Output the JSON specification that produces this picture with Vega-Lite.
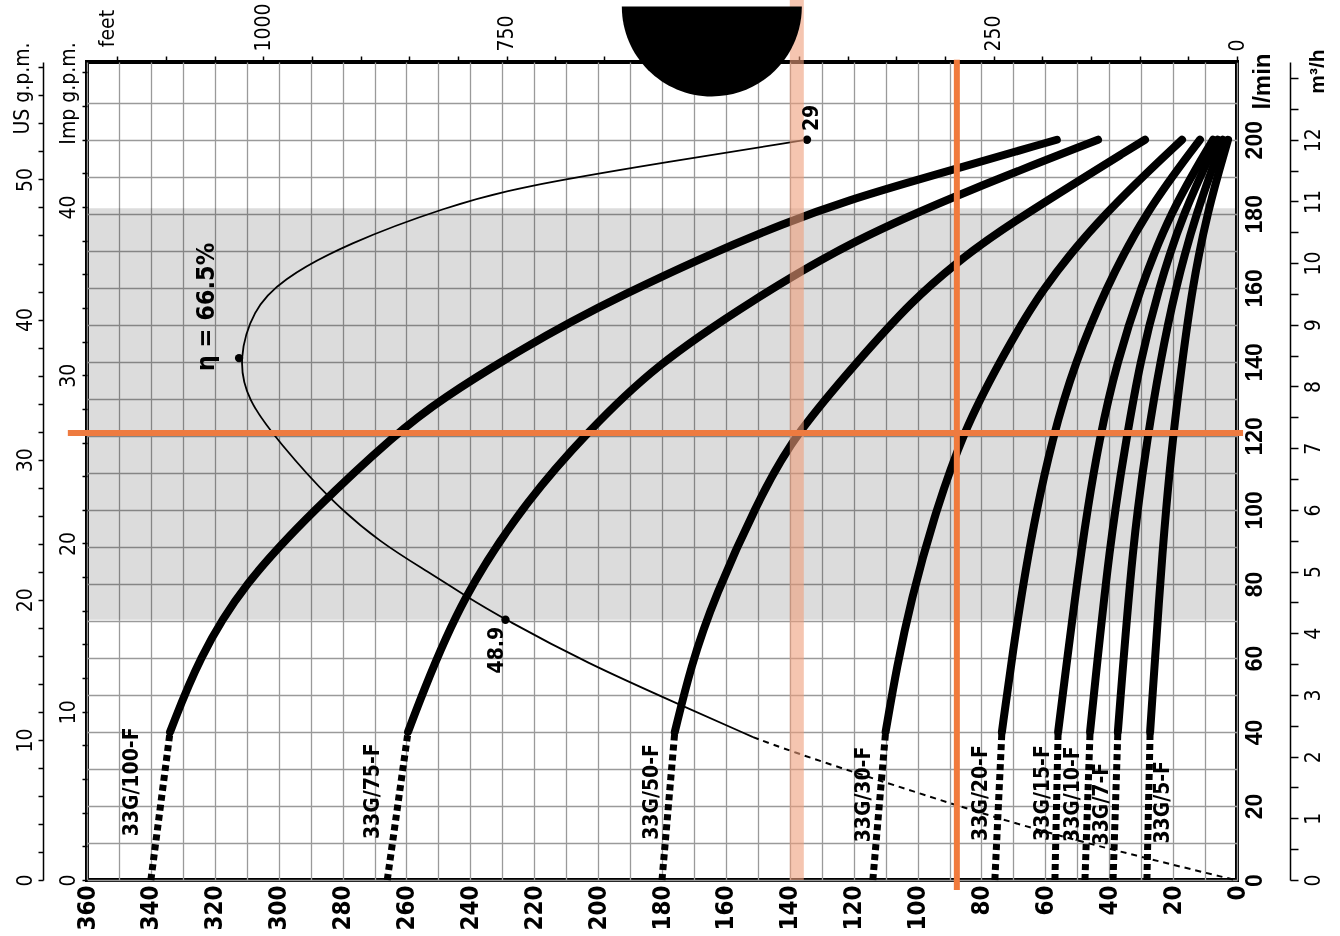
{
  "$schema": "https://vega.github.io/schema/vega-lite/v6.json",
  "width": 1150,
  "height": 818,
  "autosize": {"type": "none"},
  "padding": {"left": 87, "top": 62, "right": 103, "bottom": 56},
  "background": "white",
  "config": {
    "view": {"stroke": "black", "strokeWidth": 4},
    "axis": {"labelColor": "black", "tickColor": "black", "titleColor": "black", "domainColor": "black", "labelFlush": false, "labelOverlap": false, "labelBound": false}
  },
  "datasets": {
    "band": [{"head": 360, "head2": 0, "flow": 70.3, "flow2": 181.5}],
    "pumps": [
      {"pump": "100", "part": "d", "flow": 0, "head": 340},
      {"pump": "100", "part": "d", "flow": 40, "head": 334},
      {"pump": "100", "part": "s", "flow": 40, "head": 334},
      {"pump": "100", "part": "s", "flow": 60, "head": 325},
      {"pump": "100", "part": "s", "flow": 80, "head": 311},
      {"pump": "100", "part": "s", "flow": 100, "head": 289},
      {"pump": "100", "part": "s", "flow": 120.8, "head": 263},
      {"pump": "100", "part": "s", "flow": 129.7, "head": 249.5},
      {"pump": "100", "part": "s", "flow": 143.2, "head": 224.5},
      {"pump": "100", "part": "s", "flow": 156.8, "head": 196.3},
      {"pump": "100", "part": "s", "flow": 179.2, "head": 139},
      {"pump": "100", "part": "s", "flow": 188.6, "head": 102.4},
      {"pump": "100", "part": "s", "flow": 200, "head": 56.4},
      {"pump": "75", "part": "d", "flow": 0, "head": 266},
      {"pump": "75", "part": "d", "flow": 40, "head": 259.5},
      {"pump": "75", "part": "s", "flow": 40, "head": 259.5},
      {"pump": "75", "part": "s", "flow": 48.6, "head": 255.8},
      {"pump": "75", "part": "s", "flow": 76.5, "head": 242.7},
      {"pump": "75", "part": "s", "flow": 103.6, "head": 221.4},
      {"pump": "75", "part": "s", "flow": 120.8, "head": 203.5},
      {"pump": "75", "part": "s", "flow": 138.7, "head": 182.7},
      {"pump": "75", "part": "s", "flow": 156.8, "head": 151.5},
      {"pump": "75", "part": "s", "flow": 173, "head": 120},
      {"pump": "75", "part": "s", "flow": 186.5, "head": 83.6},
      {"pump": "75", "part": "s", "flow": 200, "head": 43.5},
      {"pump": "50", "part": "d", "flow": 0, "head": 180},
      {"pump": "50", "part": "d", "flow": 40, "head": 176},
      {"pump": "50", "part": "s", "flow": 40, "head": 176},
      {"pump": "50", "part": "s", "flow": 57.6, "head": 171},
      {"pump": "50", "part": "s", "flow": 75.7, "head": 164},
      {"pump": "50", "part": "s", "flow": 106, "head": 148},
      {"pump": "50", "part": "s", "flow": 120.8, "head": 137.8},
      {"pump": "50", "part": "s", "flow": 140, "head": 119},
      {"pump": "50", "part": "s", "flow": 156.8, "head": 101.4},
      {"pump": "50", "part": "s", "flow": 166.8, "head": 87.7},
      {"pump": "50", "part": "s", "flow": 175.7, "head": 74.2},
      {"pump": "50", "part": "s", "flow": 200, "head": 28.8},
      {"pump": "30", "part": "d", "flow": 0, "head": 114},
      {"pump": "30", "part": "d", "flow": 40, "head": 110},
      {"pump": "30", "part": "s", "flow": 40, "head": 110},
      {"pump": "30", "part": "s", "flow": 57.6, "head": 106.5},
      {"pump": "30", "part": "s", "flow": 75.7, "head": 102},
      {"pump": "30", "part": "s", "flow": 97.3, "head": 95.2},
      {"pump": "30", "part": "s", "flow": 121.6, "head": 85.5},
      {"pump": "30", "part": "s", "flow": 139.7, "head": 74.5},
      {"pump": "30", "part": "s", "flow": 159.5, "head": 61.5},
      {"pump": "30", "part": "s", "flow": 180.3, "head": 41.5},
      {"pump": "30", "part": "s", "flow": 200, "head": 17.2},
      {"pump": "20", "part": "d", "flow": 0, "head": 75.8},
      {"pump": "20", "part": "d", "flow": 40, "head": 73.6},
      {"pump": "20", "part": "s", "flow": 40, "head": 73.6},
      {"pump": "20", "part": "s", "flow": 60, "head": 70.5},
      {"pump": "20", "part": "s", "flow": 91.9, "head": 64.8},
      {"pump": "20", "part": "s", "flow": 120.3, "head": 57.6},
      {"pump": "20", "part": "s", "flow": 139.7, "head": 50.7},
      {"pump": "20", "part": "s", "flow": 159.5, "head": 41.3},
      {"pump": "20", "part": "s", "flow": 180.3, "head": 28.8},
      {"pump": "20", "part": "s", "flow": 200, "head": 11.6},
      {"pump": "15", "part": "d", "flow": 0, "head": 57},
      {"pump": "15", "part": "d", "flow": 40, "head": 56},
      {"pump": "15", "part": "s", "flow": 40, "head": 56},
      {"pump": "15", "part": "s", "flow": 91.9, "head": 48.5},
      {"pump": "15", "part": "s", "flow": 120.3, "head": 42.9},
      {"pump": "15", "part": "s", "flow": 139.7, "head": 37.6},
      {"pump": "15", "part": "s", "flow": 159.5, "head": 30.4},
      {"pump": "15", "part": "s", "flow": 180.3, "head": 21},
      {"pump": "15", "part": "s", "flow": 200, "head": 7.5},
      {"pump": "10", "part": "d", "flow": 0, "head": 47.6},
      {"pump": "10", "part": "d", "flow": 40, "head": 46},
      {"pump": "10", "part": "s", "flow": 40, "head": 46},
      {"pump": "10", "part": "s", "flow": 91.9, "head": 39.8},
      {"pump": "10", "part": "s", "flow": 120.3, "head": 34.4},
      {"pump": "10", "part": "s", "flow": 139.7, "head": 30.4},
      {"pump": "10", "part": "s", "flow": 159.5, "head": 24.7},
      {"pump": "10", "part": "s", "flow": 180.3, "head": 16.9},
      {"pump": "10", "part": "s", "flow": 200, "head": 6},
      {"pump": "7", "part": "d", "flow": 0, "head": 38.8},
      {"pump": "7", "part": "d", "flow": 40, "head": 37.3},
      {"pump": "7", "part": "s", "flow": 40, "head": 37.3},
      {"pump": "7", "part": "s", "flow": 91.9, "head": 32.6},
      {"pump": "7", "part": "s", "flow": 120.3, "head": 27.9},
      {"pump": "7", "part": "s", "flow": 139.7, "head": 24.1},
      {"pump": "7", "part": "s", "flow": 159.5, "head": 19.4},
      {"pump": "7", "part": "s", "flow": 180.3, "head": 12.8},
      {"pump": "7", "part": "s", "flow": 200, "head": 4.4},
      {"pump": "5", "part": "d", "flow": 0, "head": 28.2},
      {"pump": "5", "part": "d", "flow": 40, "head": 27.2},
      {"pump": "5", "part": "s", "flow": 40, "head": 27.2},
      {"pump": "5", "part": "s", "flow": 91.9, "head": 23.2},
      {"pump": "5", "part": "s", "flow": 120.3, "head": 20},
      {"pump": "5", "part": "s", "flow": 139.7, "head": 17.2},
      {"pump": "5", "part": "s", "flow": 159.5, "head": 14.1},
      {"pump": "5", "part": "s", "flow": 180.3, "head": 9.4},
      {"pump": "5", "part": "s", "flow": 200, "head": 2.8}
    ],
    "eff": [
      {"o": 1, "part": "s", "head": 134.6, "flow": 200},
      {"o": 2, "part": "s", "head": 180.6, "flow": 193.7},
      {"o": 3, "part": "s", "head": 224.5, "flow": 187.3},
      {"o": 4, "part": "s", "head": 247, "flow": 182},
      {"o": 5, "part": "s", "head": 278.6, "flow": 172},
      {"o": 6, "part": "s", "head": 299.6, "flow": 162},
      {"o": 7, "part": "s", "head": 308, "flow": 154},
      {"o": 8, "part": "s", "head": 312.6, "flow": 141},
      {"o": 9, "part": "s", "head": 310, "flow": 129.7},
      {"o": 10, "part": "s", "head": 299.6, "flow": 118},
      {"o": 11, "part": "s", "head": 284, "flow": 102.7},
      {"o": 12, "part": "s", "head": 268, "flow": 91},
      {"o": 13, "part": "s", "head": 252.7, "flow": 83},
      {"o": 14, "part": "s", "head": 242, "flow": 77},
      {"o": 15, "part": "s", "head": 229, "flow": 70.3},
      {"o": 16, "part": "s", "head": 203.5, "flow": 58.6},
      {"o": 17, "part": "s", "head": 175.3, "flow": 47.7},
      {"o": 18, "part": "s", "head": 151.5, "flow": 38.6},
      {"o": 18, "part": "d", "head": 151.5, "flow": 38.6},
      {"o": 19, "part": "d", "head": 139, "flow": 34.6},
      {"o": 20, "part": "d", "head": 120.2, "flow": 29.2},
      {"o": 21, "part": "d", "head": 105.5, "flow": 25.1},
      {"o": 22, "part": "d", "head": 66.9, "flow": 14.4},
      {"o": 23, "part": "d", "head": 30.4, "flow": 6.3},
      {"o": 24, "part": "d", "head": 0.6, "flow": 0}
    ],
    "dots": [
      {"head": 134.6, "flow": 200},
      {"head": 312.4, "flow": 141},
      {"head": 229, "flow": 70.3}
    ],
    "pumpLabels": [
      {"label": "33G/100-F", "head": 346, "flow": 26.5},
      {"label": "33G/75-F", "head": 270.5, "flow": 24},
      {"label": "33G/50-F", "head": 183.2, "flow": 23.8},
      {"label": "33G/30-F", "head": 116.8, "flow": 23.1},
      {"label": "33G/20-F", "head": 80.2, "flow": 23.5},
      {"label": "33G/15-F", "head": 60.7, "flow": 23.5},
      {"label": "33G/10-F", "head": 51.3, "flow": 23.2},
      {"label": "33G/7-F", "head": 42.3, "flow": 20.5},
      {"label": "33G/5-F", "head": 23.2, "flow": 21}
    ],
    "etaLabel": [{"label": "η = 66.5%", "head": 322.8, "flow": 154.8}],
    "valLabels": [
      {"label": "29", "head": 133, "flow": 205.9},
      {"label": "48.9", "head": 231.7, "flow": 62.1}
    ],
    "paleRule": [{"head": 137.8, "flow": 0, "flow2": 237.8}],
    "vRule": [{"head": 87.7, "flow": -2.7, "flow2": 221.6}],
    "hRule": [{"head": 366, "head2": -1.9, "flow": 120.8}],
    "disc": [{"head": 164.4, "flow": 236}],
    "anchor": [{"head": 0, "flow": 0}]
  },
  "encoding": {
    "x": {"field": "head", "type": "quantitative", "scale": {"domain": [0, 360], "reverse": true, "nice": false, "zero": false}, "axis": null},
    "y": {"field": "flow", "type": "quantitative", "scale": {"domain": [0, 221], "nice": false, "zero": false}, "axis": null}
  },
  "layer": [
    {
      "data": {"name": "anchor"},
      "mark": {"type": "point", "opacity": 0},
      "encoding": {
        "x": {"field": "head", "type": "quantitative", "scale": {"domain": [0, 360], "reverse": true, "nice": false, "zero": false},
          "axis": {"orient": "bottom", "values": [0,10,20,30,40,50,60,70,80,90,100,110,120,130,140,150,160,170,180,190,200,210,220,230,240,250,260,270,280,290,300,310,320,330,340,350,360],
            "labelExpr": "datum.value % 20 == 0 ? datum.label : ''", "grid": true, "gridColor": "#9a9a9a", "gridWidth": 1.3, "ticks": false, "domain": false,
            "labelAngle": 270, "labelFont": "DejaVu Sans Condensed, Liberation Sans", "labelFontWeight": "bold", "labelFontSize": 24, "labelPadding": 5, "title": null}},
        "y": {"field": "flow", "type": "quantitative", "scale": {"domain": [0, 221], "nice": false, "zero": false},
          "axis": {"orient": "right", "values": [0,10,20,30,40,50,60,70,80,90,100,110,120,130,140,150,160,170,180,190,200,210],
            "labelExpr": "datum.value % 20 == 0 && datum.value <= 200 ? datum.label : ''", "grid": true, "gridColor": "#9a9a9a", "gridWidth": 1.3, "ticks": false, "domain": false,
            "labelAngle": 270, "labelFont": "Liberation Sans", "labelFontWeight": "bold", "labelFontSize": 23, "labelPadding": 6,
            "title": "l/min", "titleAngle": 270, "titleX": 25, "titleY": 19, "titleAlign": "center", "titleBaseline": "middle", "titleFont": "Liberation Sans", "titleFontWeight": "bold", "titleFontSize": 24}}
      }
    },
    {
      "data": {"name": "anchor"},
      "mark": {"type": "point", "opacity": 0},
      "encoding": {
        "x": {"field": "head", "type": "quantitative", "scale": {"domain": [0, 360], "reverse": true, "nice": false, "zero": false},
          "axis": {"orient": "top", "values": [0,15.24,30.48,45.72,60.96,76.2,91.44,106.68,121.92,137.16,152.4,167.64,182.88,198.12,213.36,228.6,243.84,259.08,274.32,289.56,304.8,320.04,335.28,350.52],
            "labelExpr": "round(datum.value/0.3048) % 250 == 0 ? format(round(datum.value/0.3048), 'd') : ''", "grid": false, "ticks": true, "tickSize": 6, "tickWidth": 1.5, "domain": false,
            "labelAngle": 270, "labelFont": "DejaVu Sans Condensed, Liberation Sans", "labelFontSize": 21, "labelPadding": 5,
            "title": "feet", "titleAngle": 270, "titleX": 20, "titleY": -34, "titleAlign": "center", "titleBaseline": "middle", "titleFont": "DejaVu Sans Condensed, Liberation Sans", "titleFontWeight": "normal", "titleFontSize": 21}},
        "y": {"field": "flow", "type": "quantitative", "scale": {"domain": [0, 221], "nice": false, "zero": false},
          "axis": {"orient": "left", "values": [0,9.09218,18.18436,27.27654,36.36872,45.4609,54.55308,63.64526,72.73744,81.82962,90.9218,100.01398,109.10616,118.19834,127.29052,136.3827,145.47488,154.56706,163.65924,172.75142,181.8436,190.93578,200.02796,209.12014,218.21232],
            "labelExpr": "round(datum.value/4.54609) % 10 == 0 ? format(round(datum.value/4.54609), 'd') : ''", "grid": false, "ticks": true, "tickSize": 5, "tickWidth": 1.5, "domain": false,
            "labelAngle": 270, "labelFont": "DejaVu Sans Condensed, Liberation Sans", "labelFontSize": 21, "labelPadding": 4,
            "title": "Imp g.p.m.", "titleAngle": 270, "titleX": -19, "titleY": 31, "titleAlign": "center", "titleBaseline": "middle", "titleFont": "DejaVu Sans Condensed, Liberation Sans", "titleFontWeight": "normal", "titleFontSize": 21}}
      }
    },
    {
      "data": {"name": "anchor"},
      "mark": {"type": "point", "opacity": 0},
      "encoding": {
        "x": {"field": "head", "type": "quantitative", "scale": {"domain": [0, 360], "reverse": true, "nice": false, "zero": false}, "axis": null},
        "y": {"field": "flow", "type": "quantitative", "scale": {"domain": [0, 221], "nice": false, "zero": false},
          "axis": {"orient": "left", "offset": 44, "values": [0,7.57082,15.14164,22.71246,30.28328,37.8541,45.42492,52.99574,60.56656,68.13738,75.7082,83.27902,90.84984,98.42066,105.99148,113.5623,121.13312,128.70394,136.27476,143.84558,151.4164,158.98722,166.55804,174.12886,181.69968,189.2705,196.84132,204.41214,211.98296,219.55378],
            "labelExpr": "round(datum.value/3.78541) % 10 == 0 ? format(round(datum.value/3.78541), 'd') : ''", "grid": false, "ticks": true, "tickSize": 5, "tickWidth": 1.5, "domain": true, "domainWidth": 1.5,
            "labelAngle": 270, "labelFont": "DejaVu Sans Condensed, Liberation Sans", "labelFontSize": 21, "labelPadding": 3,
            "title": "US g.p.m.", "titleAngle": 270, "titleX": -21, "titleY": 26, "titleAlign": "center", "titleBaseline": "middle", "titleFont": "DejaVu Sans Condensed, Liberation Sans", "titleFontWeight": "normal", "titleFontSize": 21}}
      }
    },
    {
      "data": {"name": "anchor"},
      "mark": {"type": "point", "opacity": 0},
      "encoding": {
        "x": {"field": "head", "type": "quantitative", "scale": {"domain": [0, 360], "reverse": true, "nice": false, "zero": false}, "axis": null},
        "y": {"field": "flow", "type": "quantitative", "scale": {"domain": [0, 221], "nice": false, "zero": false},
          "axis": {"orient": "right", "offset": 53, "values": [0,8.33333,16.66667,25,33.33333,41.66667,50,58.33333,66.66667,75,83.33333,91.66667,100,108.33333,116.66667,125,133.33333,141.66667,150,158.33333,166.66667,175,183.33333,191.66667,200,208.33333,216.66667],
            "labelExpr": "round(datum.value/8.33333) % 2 == 0 && datum.value < 210 ? format(round(datum.value/16.66667), 'd') : ''", "grid": false, "ticks": true, "tickSize": 8, "tickWidth": 1.5, "domain": true, "domainWidth": 1.5,
            "labelAngle": 270, "labelFont": "DejaVu Sans Condensed, Liberation Sans", "labelFontSize": 21, "labelPadding": 4,
            "title": "m³/h", "titleAngle": 270, "titleX": 27, "titleY": 9, "titleAlign": "center", "titleBaseline": "middle", "titleFont": "Liberation Sans", "titleFontWeight": "bold", "titleFontSize": 21}}
      }
    },
    {
      "data": {"name": "band"},
      "mark": {"type": "rect", "color": "#dcdcdc", "blend": "multiply"},
      "encoding": {"x2": {"field": "head2"}, "y2": {"field": "flow2"}}
    },
    {
      "data": {"name": "pumps"},
      "transform": [{"filter": "datum.part == 'd'"}],
      "mark": {"type": "line", "color": "black", "strokeWidth": 7, "strokeDash": [6, 4], "strokeCap": "butt"},
      "encoding": {"detail": {"field": "pump"}, "order": {"field": "flow", "type": "quantitative"}}
    },
    {
      "data": {"name": "pumps"},
      "transform": [{"filter": "datum.part == 's'"}],
      "mark": {"type": "line", "color": "black", "strokeWidth": 8, "interpolate": "basis", "strokeCap": "round"},
      "encoding": {"detail": {"field": "pump"}, "order": {"field": "flow", "type": "quantitative"}}
    },
    {
      "data": {"name": "eff"},
      "transform": [{"filter": "datum.part == 's'"}],
      "mark": {"type": "line", "color": "black", "strokeWidth": 1.8, "interpolate": "basis"},
      "encoding": {"order": {"field": "o", "type": "quantitative"}}
    },
    {
      "data": {"name": "eff"},
      "transform": [{"filter": "datum.part == 'd'"}],
      "mark": {"type": "line", "color": "black", "strokeWidth": 2, "strokeDash": [6, 5], "interpolate": "basis"},
      "encoding": {"order": {"field": "o", "type": "quantitative"}}
    },
    {
      "data": {"name": "dots"},
      "mark": {"type": "point", "filled": true, "color": "black", "opacity": 1, "size": 70}
    },
    {
      "data": {"name": "paleRule"},
      "mark": {"type": "rule", "color": "#ef9f7c", "opacity": 0.6, "strokeWidth": 14},
      "encoding": {"y2": {"field": "flow2"}}
    },
    {
      "data": {"name": "vRule"},
      "mark": {"type": "rule", "color": "#f07a3c", "strokeWidth": 6},
      "encoding": {"y2": {"field": "flow2"}}
    },
    {
      "data": {"name": "hRule"},
      "mark": {"type": "rule", "color": "#ee7b40", "strokeWidth": 6},
      "encoding": {"x2": {"field": "head2"}}
    },
    {
      "data": {"name": "pumpLabels"},
      "mark": {"type": "text", "angle": 270, "align": "center", "baseline": "middle", "font": "DejaVu Sans Condensed, Liberation Sans", "fontWeight": "bold", "fontSize": 21, "color": "black"},
      "encoding": {"text": {"field": "label"}}
    },
    {
      "data": {"name": "etaLabel"},
      "mark": {"type": "text", "angle": 270, "align": "center", "baseline": "middle", "font": "DejaVu Sans Condensed, Liberation Sans", "fontWeight": "bold", "fontSize": 25, "color": "black"},
      "encoding": {"text": {"field": "label"}}
    },
    {
      "data": {"name": "valLabels"},
      "mark": {"type": "text", "angle": 270, "align": "center", "baseline": "middle", "font": "DejaVu Sans Condensed, Liberation Sans", "fontWeight": "bold", "fontSize": 21, "color": "black"},
      "encoding": {"text": {"field": "label"}}
    },
    {
      "data": {"name": "disc"},
      "mark": {"type": "point", "shape": "M-1,0A1,1 0 0,0 1,0Z", "size": 32400, "filled": true, "color": "black", "opacity": 1}
    }
  ],
  "resolve": {"axis": {"x": "independent", "y": "independent"}}
}
